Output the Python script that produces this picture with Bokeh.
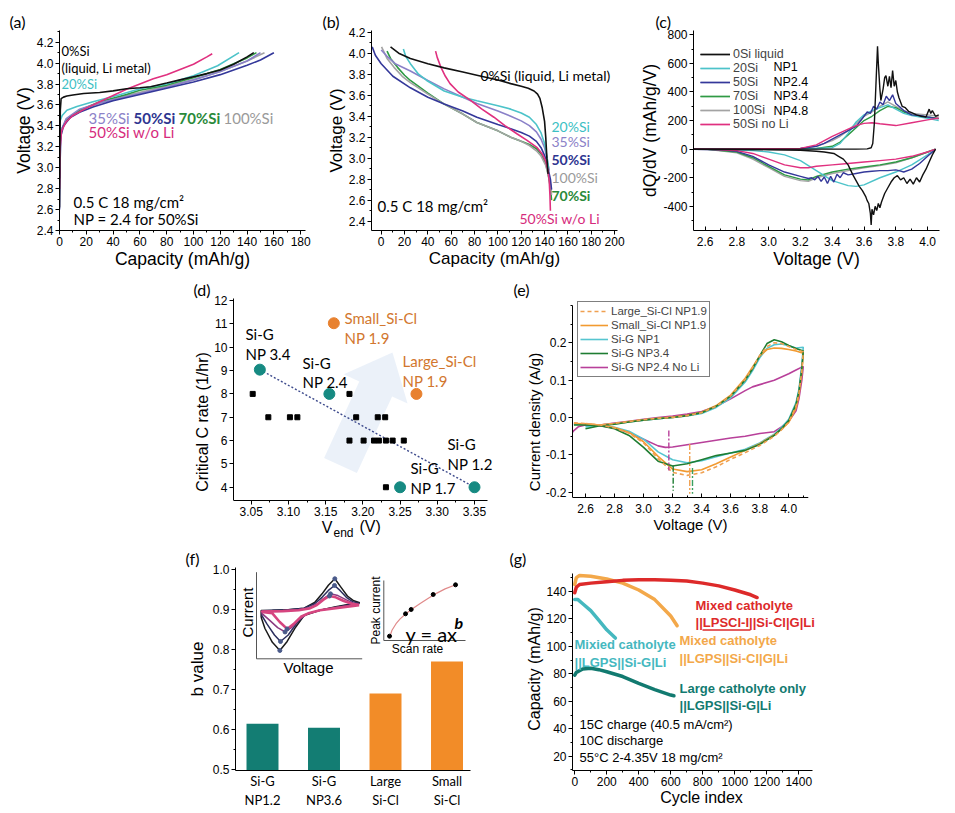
import math
from bokeh.plotting import figure
from bokeh.models import Range1d, Label, Legend, LegendItem, FixedTicker, Title
from bokeh.layouts import row, column
from bokeh.embed import file_html
from bokeh.resources import INLINE

AXF = "Liberation Sans"
ANF = "Lato"

# ===================== DATA =====================
# (a) charge profiles
a_cap_0si = [0, 0.3, 0.6, 1.2, 3, 5.5, 10, 18, 30, 40, 50, 60, 68, 80, 90, 100, 110, 120, 130, 140, 145]
a_v_0si = [2.62, 3.2, 3.55, 3.66, 3.675, 3.685, 3.695, 3.71, 3.72, 3.735, 3.755, 3.765, 3.775, 3.81, 3.84, 3.87, 3.90, 3.935, 3.99, 4.06, 4.10]
a_cap_20si = [0, 0.5, 2, 5.5, 13, 25, 43, 60, 80, 100, 118, 134]
a_v_20si = [3.0, 3.45, 3.5, 3.55, 3.585, 3.63, 3.69, 3.755, 3.80, 3.88, 3.975, 4.10]
a_cap_35si = [0, 0.5, 1, 5, 15, 30, 50, 80, 100, 120, 140, 150]
a_v_35si = [2.9, 3.25, 3.35, 3.47, 3.56, 3.62, 3.68, 3.77, 3.84, 3.92, 4.02, 4.10]
a_cap_50si = [0, 0.3, 1, 3, 8, 15, 25, 40, 60, 80, 100, 120, 140, 150, 160]
a_v_50si = [2.6, 3.0, 3.3, 3.4, 3.48, 3.53, 3.58, 3.64, 3.70, 3.76, 3.82, 3.89, 3.98, 4.03, 4.10]
a_cap_70si = [0, 0.5, 1, 5, 15, 30, 50, 60, 80, 100, 120, 140, 147]
a_v_70si = [2.9, 3.25, 3.35, 3.45, 3.55, 3.63, 3.70, 3.74, 3.79, 3.86, 3.94, 4.05, 4.10]
a_cap_100si = [0, 0.5, 1, 5, 15, 30, 50, 80, 100, 120, 140, 153]
a_v_100si = [2.9, 3.25, 3.35, 3.46, 3.55, 3.62, 3.69, 3.78, 3.84, 3.92, 4.02, 4.10]
a_cap_noli = [0, 0.5, 1.5, 5, 10, 20, 30, 40, 50, 60, 70, 80, 90, 100, 110, 114]
a_v_noli = [2.8, 3.2, 3.35, 3.44, 3.50, 3.57, 3.63, 3.69, 3.75, 3.80, 3.85, 3.89, 3.94, 3.99, 4.06, 4.09]
a_xticks = [0, 20, 40, 60, 80, 100, 120, 140, 160, 180]
a_xlabels = ["0", "20", "40", "60", "80", "100", "120", "140", "160", "180"]
a_yticks = [2.4, 2.6, 2.8, 3.0, 3.2, 3.4, 3.6, 3.8, 4.0, 4.2]
a_ylabels = ["2.4", "2.6", "2.8", "3.0", "3.2", "3.4", "3.6", "3.8", "4.0", "4.2"]

# (b) discharge profiles
b_cap_0si = [8, 15, 25, 40, 54, 70, 82, 100, 111, 120, 126, 131, 134, 136, 138, 140, 141, 142, 143]
b_v_0si = [4.06, 4.0, 3.95, 3.9, 3.86, 3.82, 3.79, 3.745, 3.71, 3.685, 3.665, 3.64, 3.61, 3.57, 3.48, 3.35, 3.2, 3.0, 2.85]
b_cap_20si = [19, 21, 25, 32, 39, 54, 70, 82, 100, 111, 120, 127, 133, 137, 140, 142, 143.5]
b_v_20si = [4.04, 3.97, 3.9, 3.8, 3.74, 3.64, 3.58, 3.547, 3.5, 3.467, 3.43, 3.39, 3.32, 3.24, 3.14, 3.02, 2.9]
b_cap_35si = [0, 5, 12, 25, 40, 54, 70, 82, 100, 111, 120, 127, 133, 137, 140, 142, 144]
b_v_35si = [4.03, 3.97, 3.9, 3.83, 3.74, 3.66, 3.58, 3.52, 3.45, 3.40, 3.355, 3.31, 3.25, 3.18, 3.1, 3.0, 2.88]
b_cap_50si = [-7.7, -5, 0, 10, 25, 40, 54, 70, 82, 100, 111, 120, 127, 133, 137, 141, 143, 145, 146]
b_v_50si = [4.06, 3.98, 3.9, 3.78, 3.67, 3.58, 3.515, 3.45, 3.39, 3.32, 3.28, 3.245, 3.21, 3.16, 3.1, 3.0, 2.9, 2.8, 2.7]
b_cap_100si = [0.3, 5, 11, 18, 25, 40, 54, 70, 82, 100, 111, 120, 127, 133, 137, 141, 143, 145, 146]
b_v_100si = [4.06, 3.95, 3.865, 3.78, 3.72, 3.61, 3.515, 3.42, 3.34, 3.26, 3.2, 3.16, 3.12, 3.07, 3.02, 2.93, 2.85, 2.75, 2.65]
b_cap_70si = [5, 8, 14, 20, 25, 40, 54, 70, 82, 100, 111, 120, 127, 133, 137, 141, 143, 145, 146]
b_v_70si = [4.02, 3.95, 3.865, 3.79, 3.74, 3.62, 3.515, 3.42, 3.34, 3.26, 3.2, 3.16, 3.13, 3.09, 3.04, 2.95, 2.85, 2.72, 2.6]
b_cap_noli = [46.6, 48, 51, 55, 59, 66, 76.6, 86, 96.6, 106, 116.6, 125, 133.7, 138, 141, 143, 144, 144.6, 145]
b_v_noli = [4.02, 3.96, 3.87, 3.78, 3.71, 3.63, 3.55, 3.47, 3.39, 3.31, 3.23, 3.17, 3.10, 3.04, 2.97, 2.88, 2.78, 2.65, 2.5]
b_xticks = [0, 20, 40, 60, 80, 100, 120, 140, 160, 180, 200]
b_xlabels = ["0", "20", "40", "60", "80", "100", "120", "140", "160", "180", "200"]
b_yticks = [2.4, 2.6, 2.8, 3.0, 3.2, 3.4, 3.6, 3.8, 4.0, 4.2]
b_ylabels = ["2.4", "2.6", "2.8", "3.0", "3.2", "3.4", "3.6", "3.8", "4.0", "4.2"]

# (c) dQ/dV
c_v_blk_up = [2.5, 2.8, 3.0, 3.2, 3.4, 3.55, 3.62, 3.645, 3.655, 3.665, 3.675, 3.685, 3.69, 3.70, 3.706, 3.72, 3.73, 3.738, 3.75, 3.76, 3.77, 3.78, 3.79, 3.80, 3.81, 3.82, 3.84, 3.86, 3.88, 3.90, 3.93, 3.96, 3.99, 4.01, 4.02, 4.03, 4.05, 4.07]
c_q_blk_up = [0, 0, 0, 0, 0, 0, 2, 10, 40, 180, 450, 720, 600, 420, 340, 420, 500, 515, 440, 510, 430, 550, 440, 480, 400, 360, 300, 290, 265, 255, 240, 230, 225, 280, 250, 270, 230, 240]
c_v_blk_dn = [4.05, 4.03, 4.01, 3.99, 3.97, 3.95, 3.93, 3.91, 3.89, 3.87, 3.85, 3.83, 3.81, 3.79, 3.77, 3.75, 3.73, 3.71, 3.70, 3.69, 3.68, 3.67, 3.66, 3.65, 3.645, 3.64, 3.63, 3.62, 3.61, 3.59, 3.57, 3.55, 3.53, 3.5, 3.47, 3.44, 3.41, 3.35, 3.3, 3.2, 3.0, 2.8, 2.5]
c_q_blk_dn = [0, -40, -90, -140, -180, -230, -200, -245, -210, -240, -200, -215, -185, -200, -230, -270, -310, -370, -410, -380, -430, -400, -460, -420, -530, -450, -380, -360, -330, -290, -260, -220, -180, -110, -70, -50, -30, -20, -15, -8, -4, -2, 0]
c_v_20_up = [2.5, 3.2, 3.4, 3.45, 3.5, 3.55, 3.6, 3.65, 3.7, 3.75, 3.8, 3.85, 3.9, 4.0, 4.07]
c_q_20_up = [0, 0, 10, 40, 110, 190, 240, 270, 290, 310, 280, 250, 235, 215, 200]
c_v_20_dn = [4.05, 4.0, 3.9, 3.8, 3.7, 3.6, 3.55, 3.5, 3.4, 3.3, 3.2, 3.1, 3.0, 2.9, 2.6, 2.5]
c_q_20_dn = [0, -40, -110, -160, -200, -250, -260, -255, -220, -150, -80, -40, -20, -10, 0, 0]
c_v_50_up = [2.5, 3.0, 3.2, 3.3, 3.35, 3.4, 3.45, 3.5, 3.55, 3.58, 3.6, 3.62, 3.64, 3.66, 3.68, 3.7, 3.72, 3.74, 3.76, 3.78, 3.8, 3.82, 3.85, 3.9, 3.95, 4.0, 4.07]
c_q_50_up = [0, 0, 5, 20, 40, 70, 100, 130, 160, 200, 230, 260, 250, 300, 280, 330, 310, 370, 340, 380, 320, 300, 270, 240, 235, 225, 212]
c_v_50_dn = [4.05, 4.0, 3.95, 3.9, 3.85, 3.82, 3.8, 3.75, 3.7, 3.65, 3.6, 3.55, 3.5, 3.47, 3.45, 3.43, 3.41, 3.39, 3.37, 3.35, 3.33, 3.31, 3.29, 3.27, 3.25, 3.2, 3.1, 3.0, 2.9, 2.8, 2.7, 2.5]
c_q_50_dn = [0, -50, -100, -140, -160, -150, -145, -150, -150, -155, -160, -170, -180, -165, -200, -175, -230, -190, -240, -195, -225, -190, -215, -200, -205, -190, -160, -110, -50, -15, -5, 0]
c_v_70_up = [2.5, 3.3, 3.4, 3.45, 3.5, 3.55, 3.6, 3.65, 3.7, 3.75, 3.8, 3.85, 3.9, 4.0, 4.07]
c_q_70_up = [0, 5, 20, 50, 100, 150, 200, 230, 270, 300, 290, 260, 240, 225, 215]
c_v_70_dn = [4.05, 4.0, 3.9, 3.8, 3.7, 3.6, 3.5, 3.4, 3.3, 3.25, 3.2, 3.1, 3.0, 2.9, 2.8, 2.6, 2.5]
c_q_70_dn = [0, -20, -60, -90, -110, -125, -140, -160, -190, -215, -210, -180, -120, -60, -20, 0, 0]
c_v_100_up = [2.5, 3.2, 3.3, 3.4, 3.45, 3.5, 3.55, 3.6, 3.65, 3.7, 3.75, 3.8, 3.85, 3.9, 4.0, 4.07]
c_q_100_up = [0, 5, 20, 60, 90, 130, 180, 230, 260, 300, 330, 300, 270, 250, 240, 230]
c_v_100_dn = [4.05, 4.0, 3.9, 3.8, 3.7, 3.6, 3.5, 3.4, 3.3, 3.25, 3.2, 3.1, 3.0, 2.9, 2.8, 2.6, 2.5]
c_q_100_dn = [0, -20, -60, -95, -115, -130, -150, -170, -200, -225, -220, -190, -130, -70, -25, 0, 0]
c_v_noli_up = [2.5, 3.2, 3.3, 3.4, 3.5, 3.55, 3.6, 3.65, 3.7, 3.8, 3.9, 4.0, 4.07]
c_q_noli_up = [0, 5, 30, 90, 140, 165, 180, 185, 178, 165, 185, 205, 218]
c_v_noli_dn = [4.05, 4.0, 3.9, 3.8, 3.7, 3.6, 3.5, 3.4, 3.3, 3.25, 3.2, 3.1, 3.0, 2.9, 2.8, 2.6, 2.5]
c_q_noli_dn = [0, -20, -50, -70, -80, -90, -100, -110, -120, -130, -130, -110, -70, -30, -10, 0, 0]
c_xticks = [2.6, 2.8, 3.0, 3.2, 3.4, 3.6, 3.8, 4.0]
c_xlabels = ["2.6", "2.8", "3.0", "3.2", "3.4", "3.6", "3.8", "4.0"]
c_yticks = [-400, -200, 0, 200, 400, 600, 800]
c_ylabels = ["-400", "-200", "0", "200", "400", "600", "800"]
c_legend = ["0Si liquid", "20Si", "50Si", "70Si", "100Si", "50Si no Li"]
c_np = ["", "NP1", "NP2.4", "NP3.4", "NP4.8", ""]

# (d) critical C rate vs V_end
d_sq_v = [3.052, 3.073, 3.102, 3.112, 3.182, 3.191, 3.22, 3.23, 3.182, 3.201, 3.215, 3.2215, 3.231, 3.24, 3.255, 3.231]
d_sq_c = [8, 7, 7, 7, 8, 7, 7, 7, 6, 6, 6, 6, 6, 6, 6, 4]
d_sig_v = [3.0616, 3.155, 3.25, 3.35]
d_sig_c = [9.04, 8, 4, 4]
d_sicl_v = [3.161, 3.272]
d_sicl_c = [11.03, 8]
d_xticks = [3.05, 3.10, 3.15, 3.20, 3.25, 3.30, 3.35]
d_xlabels = ["3.05", "3.10", "3.15", "3.20", "3.25", "3.30", "3.35"]
d_yticks = [4, 5, 6, 7, 8, 9, 10, 11, 12]
d_ylabels = ["4", "5", "6", "7", "8", "9", "10", "11", "12"]

# (e) CV curves
e_v_up = [2.52, 2.6, 2.7, 2.8, 2.9, 3.0, 3.1, 3.2, 3.3, 3.4, 3.5, 3.6, 3.7, 3.75, 3.8, 3.85, 3.9, 3.95, 4.0, 4.05, 4.1]
e_v_dn = [4.1, 4.09, 4.07, 4.05, 4.0, 3.95, 3.9, 3.8, 3.7, 3.6, 3.5, 3.4, 3.3, 3.2, 3.1, 3.0, 2.9, 2.8, 2.7, 2.6]
e_i_np34_up = [-0.02, -0.02, -0.022, -0.018, -0.012, -0.007, -0.003, 0.0, 0.005, 0.013, 0.03, 0.057, 0.1, 0.13, 0.165, 0.198, 0.208, 0.203, 0.193, 0.185, 0.178]
e_i_np34_dn = [0.178, 0.13, 0.07, 0.035, -0.008, -0.03, -0.048, -0.072, -0.088, -0.095, -0.102, -0.113, -0.124, -0.13, -0.117, -0.08, -0.048, -0.03, -0.022, -0.03]
e_i_np1_up = [-0.018, -0.018, -0.02, -0.017, -0.012, -0.007, -0.003, 0.0, 0.004, 0.011, 0.027, 0.053, 0.095, 0.125, 0.16, 0.185, 0.195, 0.197, 0.192, 0.186, 0.188]
e_i_np1_dn = [0.188, 0.14, 0.075, 0.04, -0.005, -0.027, -0.045, -0.068, -0.085, -0.095, -0.105, -0.116, -0.121, -0.113, -0.092, -0.058, -0.037, -0.026, -0.02, -0.025]
e_i_small_up = [-0.016, -0.017, -0.02, -0.016, -0.011, -0.006, -0.002, 0.001, 0.006, 0.014, 0.032, 0.06, 0.105, 0.135, 0.165, 0.182, 0.186, 0.185, 0.182, 0.178, 0.172]
e_i_small_dn = [0.172, 0.12, 0.06, 0.025, -0.013, -0.032, -0.047, -0.07, -0.088, -0.106, -0.124, -0.14, -0.145, -0.138, -0.104, -0.065, -0.04, -0.027, -0.02, -0.018]
e_i_large_up = [-0.014, -0.016, -0.02, -0.016, -0.011, -0.006, -0.002, 0.0, 0.005, 0.013, 0.03, 0.058, 0.102, 0.133, 0.166, 0.19, 0.2, 0.198, 0.19, 0.182, 0.176]
e_i_large_dn = [0.176, 0.125, 0.065, 0.03, -0.012, -0.033, -0.05, -0.075, -0.094, -0.112, -0.132, -0.148, -0.155, -0.147, -0.11, -0.068, -0.042, -0.028, -0.02, -0.016]
e_v_noli_up = [2.5, 2.52, 2.55, 2.6, 2.7, 2.8, 2.9, 3.0, 3.1, 3.2, 3.3, 3.4, 3.5, 3.6, 3.7, 3.75, 3.8, 3.9, 4.0, 4.05, 4.1]
e_i_noli_up = [-0.045, -0.035, -0.025, -0.02, -0.02, -0.015, -0.01, -0.005, 0.0, 0.004, 0.009, 0.016, 0.03, 0.05, 0.072, 0.082, 0.088, 0.1, 0.117, 0.127, 0.137]
e_v_noli_dn = [4.1, 4.09, 4.07, 4.05, 4.0, 3.95, 3.9, 3.8, 3.7, 3.6, 3.5, 3.4, 3.3, 3.2, 3.15, 3.1, 3.0, 2.9, 2.8, 2.7, 2.6]
e_i_noli_dn = [0.137, 0.1, 0.05, 0.018, -0.01, -0.025, -0.038, -0.043, -0.05, -0.055, -0.061, -0.067, -0.073, -0.079, -0.08, -0.076, -0.058, -0.04, -0.028, -0.022, -0.02]
e_peak_v = [3.174, 3.204, 3.318, 3.337]
e_peak_i0 = [-0.035, -0.129, -0.071, -0.135]
e_peak_i1 = [-0.142, -0.196, -0.204, -0.204]
e_xticks = [2.6, 2.8, 3.0, 3.2, 3.4, 3.6, 3.8, 4.0]
e_xlabels = ["2.6", "2.8", "3.0", "3.2", "3.4", "3.6", "3.8", "4.0"]
e_yticks = [-0.2, -0.1, 0.0, 0.1, 0.2]
e_ylabels = ["-0.2", "-0.1", "0.0", "0.1", "0.2"]
e_legend = ["Large_Si-Cl NP1.9", "Small_Si-Cl NP1.9", "Si-G NP1", "Si-G NP3.4", "Si-G NP2.4 No Li"]

# (f) b values
f_pos = [1, 2, 3, 4]
f_cats = ["Si-G\nNP1.2", "Si-G\nNP3.6", "Large\nSi-Cl", "Small\nSi-Cl"]
f_b = [0.615, 0.605, 0.691, 0.771]
f_yticks = [0.5, 0.6, 0.7, 0.8, 0.9, 1.0]
f_ylabels = ["0.5", "0.6", "0.7", "0.8", "0.9", "1.0"]
# inset 1: schematic CV loops (normalised voltage u, current v)
i1_u_black = [0.044, 0.08, 0.15, 0.221, 0.29, 0.37, 0.45, 0.6, 0.75, 0.88, 0.977, 0.92, 0.86, 0.8, 0.741, 0.68, 0.62, 0.55, 0.45, 0.3, 0.15, 0.044, 0.044]
i1_v_black = [-0.04, -0.3, -0.62, -0.808, -0.6, -0.27, 0.0, 0.12, 0.2, 0.26, 0.293, 0.34, 0.45, 0.65, 0.848, 0.7, 0.5, 0.3, 0.17, 0.13, 0.12, 0.115, -0.04]
i1_u_navy = [0.05, 0.1, 0.17, 0.227, 0.3, 0.38, 0.46, 0.6, 0.75, 0.88, 0.975, 0.91, 0.85, 0.79, 0.738, 0.68, 0.62, 0.55, 0.45, 0.3, 0.15, 0.05, 0.05]
i1_v_navy = [0.0, -0.2, -0.45, -0.6, -0.45, -0.18, 0.02, 0.12, 0.19, 0.25, 0.28, 0.32, 0.42, 0.58, 0.693, 0.58, 0.42, 0.27, 0.17, 0.13, 0.12, 0.11, 0.0]
i1_u_purple = [0.05, 0.12, 0.2, 0.27, 0.33, 0.4, 0.48, 0.6, 0.75, 0.88, 0.97, 0.91, 0.85, 0.77, 0.7, 0.64, 0.58, 0.5, 0.4, 0.25, 0.05, 0.05]
i1_v_purple = [0.05, -0.1, -0.28, -0.38, -0.28, -0.1, 0.04, 0.12, 0.18, 0.23, 0.26, 0.29, 0.36, 0.46, 0.5, 0.4, 0.28, 0.18, 0.14, 0.11, 0.1, 0.05]
i1_u_pink = [0.05, 0.15, 0.22, 0.29, 0.35, 0.42, 0.5, 0.6, 0.75, 0.88, 0.97, 0.9, 0.82, 0.75, 0.69, 0.63, 0.57, 0.5, 0.4, 0.25, 0.05, 0.05]
i1_v_pink = [0.08, 0.05, -0.15, -0.31, -0.2, -0.03, 0.06, 0.12, 0.17, 0.21, 0.24, 0.27, 0.34, 0.42, 0.45, 0.36, 0.24, 0.16, 0.12, 0.1, 0.09, 0.08]
i1_pk_u = [0.221, 0.227, 0.27, 0.29, 0.741, 0.738, 0.7, 0.69]
i1_pk_v = [-0.808, -0.6, -0.38, -0.31, 0.848, 0.693, 0.5, 0.45]
i1_axis_u = [0, 0, 1]
i1_axis_v = [1, -1, -1]
# inset 2: peak current vs scan rate
i2_pts_s = [0.07, 0.266, 0.335, 0.605, 0.878]
i2_pts_c = [0.072, 0.445, 0.517, 0.767, 0.928]
i2_fit_s = [0.07, 0.1, 0.15, 0.2, 0.27, 0.35, 0.45, 0.55, 0.65, 0.75, 0.88]
i2_fit_c = [0.05, 0.17, 0.28, 0.36, 0.445, 0.53, 0.62, 0.71, 0.79, 0.86, 0.93]
i2_axis_s = [0, 0, 1]
i2_axis_c = [1, 0, 0]

# (g) cycling
g_n_red = [0, 10, 30, 100, 200, 300, 400, 500, 600, 700, 800, 900, 1000, 1100, 1140]
g_q_red = [139, 143, 145, 146, 147, 148, 148.5, 148.5, 148, 147.5, 146, 144, 141, 137.5, 135.5]
g_n_org = [0, 10, 30, 100, 200, 300, 400, 500, 600, 640]
g_q_org = [145, 150, 151.5, 151, 149, 146, 141, 134, 122, 115]
g_n_cyan = [0, 20, 50, 100, 150, 200, 254]
g_q_cyan = [134, 134, 131, 126, 119, 112, 106]
g_n_teal = [0, 10, 50, 100, 150, 200, 300, 400, 500, 600, 620]
g_q_teal = [79, 81, 83.5, 84, 83, 81.5, 78, 73, 68.5, 64.5, 64]
g_xticks = [0, 200, 400, 600, 800, 1000, 1200, 1400]
g_xlabels = ["0", "200", "400", "600", "800", "1000", "1200", "1400"]
g_yticks = [20, 40, 60, 80, 100, 120, 140]
g_ylabels = ["20", "40", "60", "80", "100", "120", "140"]

# ===================== STYLE =====================
K = "#111111"
CYAN = "#4cc3c9"
PURP = "#8a80c8"
BLUE = "#34389a"
GREEN = "#2f9a45"
GRAY = "#a3a3a3"
MAG = "#e0307f"
TEAL = "#168a82"
ORNG = "#e8812f"


def mkfig(ox, oy, w, h, g, xr, yr, letter, letter_x, label_size=16):
    l, t, r, b = g
    p = figure(width=w, height=h, x_range=Range1d(xr[0], xr[1]), y_range=Range1d(yr[0], yr[1]),
               output_backend="svg", toolbar_location=None, title=None,
               min_border_left=l - ox, min_border_right=ox + w - r,
               min_border_top=t - oy, min_border_bottom=oy + h - b)
    p.outline_line_color = None
    p.xgrid.visible = False
    p.ygrid.visible = False
    p.background_fill_color = "white"
    p.border_fill_color = "white"
    for ax in (p.xaxis[0], p.yaxis[0]):
        ax.axis_line_color = "black"
        ax.major_tick_line_color = "black"
        ax.minor_tick_line_color = "black"
        ax.major_tick_out = 4
        ax.major_tick_in = 0
        ax.minor_tick_out = 2
        ax.minor_tick_in = 0
        ax.major_label_text_font = AXF
        ax.major_label_text_font_size = "12px"
        ax.major_label_text_color = "black"
        ax.major_label_standoff = 2
        ax.axis_label_text_font = AXF
        ax.axis_label_text_font_size = f"{label_size}px"
        ax.axis_label_text_font_style = "normal"
        ax.axis_label_text_color = "black"
        ax.axis_label_standoff = 0
    p.add_layout(Title(text=letter, align="left", offset=letter_x - l, standoff=0,
                       text_font=ANF, text_font_size="16px", text_font_style="normal",
                       text_color="black"), "above")
    return p


def inward(ax):
    ax.major_tick_in = 4
    ax.major_tick_out = 0
    ax.minor_tick_in = 2
    ax.minor_tick_out = 0
    ax.major_label_standoff = 6


def ticks(ax, tv, tl, minor):
    ax.ticker = FixedTicker(ticks=tv, minor_ticks=minor)
    ax.major_label_overrides = {v: s for v, s in zip(tv, tl)}


def txt(p, g, sx, sy, text, color="black", size=13, style="normal", font=ANF,
        align="left", angle=0.0, baseline="middle"):
    l, t, r, b = g
    p.add_layout(Label(x=sx - l, y=b - sy, x_units="screen", y_units="screen", text=text,
                       text_color=color, text_font_size=f"{size}px", text_font=font,
                       text_font_style=style, text_align=align, text_baseline=baseline,
                       angle=angle))


def minors(a, b, step):
    n = int(round((b - a) / step))
    return [round(a + i * step, 6) for i in range(n + 1)]


# ===================== (a) =====================
GA = (59, 30, 305, 230)
pa = mkfig(0, 0, 315, 275, GA, (0, 183.6), (2.4, 4.312), "(a)", 9, label_size=17.5)
ticks(pa.xaxis[0], a_xticks, a_xlabels, minors(0, 180, 10))
ticks(pa.yaxis[0], a_yticks, a_ylabels, minors(2.4, 4.3, 0.1))
pa.xaxis.axis_label = "Capacity (mAh/g)"
pa.yaxis.axis_label = "Voltage (V)"
for xs, ys, c in [(a_cap_100si, a_v_100si, GRAY), (a_cap_70si, a_v_70si, GREEN),
                  (a_cap_35si, a_v_35si, PURP), (a_cap_50si, a_v_50si, BLUE),
                  (a_cap_20si, a_v_20si, CYAN), (a_cap_noli, a_v_noli, MAG),
                  (a_cap_0si, a_v_0si, K)]:
    pa.line(xs, ys, line_color=c, line_width=1.6)
txt(pa, GA, 61, 50, "0%Si", size=13)
txt(pa, GA, 61, 67, "(liquid, Li metal)", size=13)
txt(pa, GA, 61, 83, "20%Si", color="#3cbfc4", size=13)
txt(pa, GA, 88, 117, "35%Si", color="#8c82c8", size=15)
txt(pa, GA, 133, 117, "50%Si", color="#2e3590", size=15, style="bold")
txt(pa, GA, 178, 117, "70%Si", color="#2a8a3a", size=15, style="bold")
txt(pa, GA, 223, 117, "100%Si", color="#9a9a9a", size=15)
txt(pa, GA, 88, 131, "50%Si w/o Li", color="#d62a7c", size=15)
txt(pa, GA, 73, 201, "0.5 C  18 mg/cm²", size=15)
txt(pa, GA, 73, 218, "NP = 2.4 for 50%Si", size=15)

# ===================== (b) =====================
GB = (371, 30, 617, 230)
pb = mkfig(315, 0, 310, 275, GB, (-8.31, 202.5), (2.311, 4.216), "(b)", 322, label_size=17)
ticks(pb.xaxis[0], b_xticks, b_xlabels, minors(0, 200, 10))
ticks(pb.yaxis[0], b_yticks, b_ylabels, minors(2.4, 4.2, 0.1))
pb.xaxis.axis_label = "Capacity (mAh/g)"
pb.yaxis.axis_label = "Voltage (V)"
for xs, ys, c in [(b_cap_70si, b_v_70si, GREEN), (b_cap_100si, b_v_100si, GRAY),
                  (b_cap_50si, b_v_50si, BLUE), (b_cap_35si, b_v_35si, PURP),
                  (b_cap_20si, b_v_20si, CYAN), (b_cap_noli, b_v_noli, MAG),
                  (b_cap_0si, b_v_0si, K)]:
    pb.line(xs, ys, line_color=c, line_width=1.6)
txt(pb, GB, 480, 75, "0%Si (liquid, Li metal)", size=14)
txt(pb, GB, 551, 126, "20%Si", color="#3cbfc4", size=14)
txt(pb, GB, 551, 141, "35%Si", color="#8c82c8", size=14)
txt(pb, GB, 551, 159, "50%Si", color="#2e3590", size=14, style="bold")
txt(pb, GB, 551, 177, "100%Si", color="#9a9a9a", size=14)
txt(pb, GB, 551, 195, "70%Si", color="#2a8a3a", size=14, style="bold")
txt(pb, GB, 519, 218, "50%Si w/o Li", color="#d62a7c", size=14)
txt(pb, GB, 377, 205, "0.5 C  18 mg/cm²", size=15)

# ===================== (c) =====================
GC = (693, 30, 939, 230)
pc = mkfig(625, 0, 325, 275, GC, (2.527, 4.075), (-569, 830), "(c)", 655, label_size=17.5)
ticks(pc.xaxis[0], c_xticks, c_xlabels, minors(2.6, 4.0, 0.1))
ticks(pc.yaxis[0], c_yticks, c_ylabels, minors(-500, 800, 100))
inward(pc.xaxis[0])
pc.xaxis.axis_label = "Voltage (V)"
pc.yaxis.axis_label = "dQ/dV (mAh/g/V)"
r_gray = [pc.line(c_v_100_up, c_q_100_up, line_color=GRAY, line_width=1.4),
          pc.line(c_v_100_dn, c_q_100_dn, line_color=GRAY, line_width=1.4)]
r_green = [pc.line(c_v_70_up, c_q_70_up, line_color=GREEN, line_width=1.4),
           pc.line(c_v_70_dn, c_q_70_dn, line_color=GREEN, line_width=1.4)]
r_cyan = [pc.line(c_v_20_up, c_q_20_up, line_color=CYAN, line_width=1.4),
          pc.line(c_v_20_dn, c_q_20_dn, line_color=CYAN, line_width=1.4)]
r_blue = [pc.line(c_v_50_up, c_q_50_up, line_color=BLUE, line_width=1.4),
          pc.line(c_v_50_dn, c_q_50_dn, line_color=BLUE, line_width=1.4)]
r_mag = [pc.line(c_v_noli_up, c_q_noli_up, line_color=MAG, line_width=1.4),
         pc.line(c_v_noli_dn, c_q_noli_dn, line_color=MAG, line_width=1.4)]
r_blk = [pc.line(c_v_blk_up, c_q_blk_up, line_color=K, line_width=1.4),
         pc.line(c_v_blk_dn, c_q_blk_dn, line_color=K, line_width=1.4)]
leg_c = Legend(items=[LegendItem(label=lab, renderers=rr) for lab, rr in
                      zip(c_legend, [r_blk, r_cyan, r_blue, r_green, r_gray, r_mag])],
               location=(7, 99), border_line_color=None, background_fill_alpha=0,
               label_text_font=AXF, label_text_font_size="12.5px", glyph_width=30,
               glyph_height=14, label_height=14, spacing=0, padding=0, margin=0,
               label_standoff=3)
pc.add_layout(leg_c)
for i, s in enumerate(c_np):
    if s:
        txt(pc, GC, 773, 52 + 14.5 * i, s, font=AXF, size=12.5)

# ============ row 2 shares frame top/bottom (298 / 545); axes pinned & bounded ============
# ===================== (d) =====================
GD = (233, 298, 497, 545)
pd_ = mkfig(0, 275, 500, 270, GD, (3.0262, 3.3809), (1.503, 12.09), "(d)", 193)
ticks(pd_.xaxis[0], d_xticks, d_xlabels, minors(3.05, 3.35, 0.025))
ticks(pd_.yaxis[0], d_yticks, d_ylabels, [])
pd_.xaxis.fixed_location = 3.43
pd_.xaxis.bounds = (3.0262, 3.3675)
pd_.yaxis.bounds = (3.43, 12.09)
pd_.yaxis.axis_label = "Critical C rate (1/hr)"
# faint arrow (decoration)
arrow_x = [3.1479, 3.1920, 3.2393, 3.2601, 3.2398, 3.1744, 3.1952]
arrow_y = [5.253, 4.610, 7.894, 7.585, 9.775, 8.845, 8.537]
pd_.patch(arrow_x, arrow_y, fill_color="#d3e0f1", fill_alpha=0.45, line_color=None)
pd_.line([d_sig_v[0], d_sig_v[3]], [d_sig_c[0], d_sig_c[3]], line_color="#3d4a8c",
         line_width=1.4, line_dash="2 2")
pd_.scatter(d_sq_v, d_sq_c, marker="square", size=5, color="black")
pd_.scatter(d_sig_v, d_sig_c, marker="circle", size=11, color=TEAL)
pd_.scatter(d_sicl_v, d_sicl_c, marker="circle", size=11, color=ORNG)
DL = "#d2772e"
txt(pd_, GD, 245, 333, "Si-G", size=15)
txt(pd_, GD, 245, 353, "NP 3.4", size=15)
txt(pd_, GD, 302, 362, "Si-G", size=15)
txt(pd_, GD, 302, 381, "NP 2.4", size=15)
txt(pd_, GD, 344, 317, "Small_Si-Cl", color=DL, size=15)
txt(pd_, GD, 344, 337, "NP 1.9", color=DL, size=15)
txt(pd_, GD, 402, 360, "Large_Si-Cl", color=DL, size=15)
txt(pd_, GD, 402, 380, "NP 1.9", color=DL, size=15)
txt(pd_, GD, 447, 443, "Si-G", size=15)
txt(pd_, GD, 447, 463, "NP 1.2", size=15)
txt(pd_, GD, 410, 467, "Si-G", size=15)
txt(pd_, GD, 410, 487, "NP 1.7", size=15)
txt(pd_, GD, 332, 527, "V", font=AXF, size=16, align="right")
txt(pd_, GD, 333, 532, "end", font=AXF, size=12)
txt(pd_, GD, 359, 526, "(V)", font=AXF, size=16)

# ===================== (e) =====================
GE = (572, 298, 808, 545)
pe = mkfig(500, 275, 450, 270, GE, (2.5105, 4.136), (-0.34271, 0.31864), "(e)", 513, label_size=15)
ticks(pe.xaxis[0], e_xticks, e_xlabels, minors(2.6, 4.1, 0.1))
ticks(pe.yaxis[0], e_yticks, e_ylabels, minors(-0.2, 0.3, 0.05))
inward(pe.xaxis[0])
pe.xaxis.fixed_location = -0.2142
pe.xaxis.bounds = (2.5105, 4.136)
pe.yaxis.bounds = (-0.2142, 0.2999)
pe.xaxis.axis_label = "Voltage (V)"
pe.yaxis.axis_label = "Current density (A/g)"
r_e_mag = pe.line(e_v_noli_up + e_v_noli_dn, e_i_noli_up + e_i_noli_dn, line_color="#b8409a", line_width=1.6)
r_e_cyan = pe.line(e_v_up + e_v_dn, e_i_np1_up + e_i_np1_dn, line_color="#56c5d0", line_width=1.6)
r_e_small = pe.line(e_v_up + e_v_dn, e_i_small_up + e_i_small_dn, line_color="#f29a30", line_width=1.6)
r_e_green = pe.line(e_v_up + e_v_dn, e_i_np34_up + e_i_np34_dn, line_color="#1e7d32", line_width=1.6)
r_e_large = pe.line(e_v_up + e_v_dn, e_i_large_up + e_i_large_dn, line_color="#f0a050", line_width=1.6, line_dash="4 3")
pe.segment(e_peak_v, e_peak_i0, e_peak_v, e_peak_i1,
           line_color=["#b8409a", "#1e7d32", "#f0a050", "#3aa060"], line_width=1.4,
           line_dash="6 2 2 2")
leg_e = Legend(items=[LegendItem(label=lab, renderers=[rr]) for lab, rr in
                      zip(e_legend, [r_e_large, r_e_small, r_e_cyan, r_e_green, r_e_mag])],
               location=(5, 168), border_line_color="black", border_line_width=1,
               background_fill_color="white", background_fill_alpha=1,
               label_text_font=AXF, label_text_font_size="11.5px", glyph_width=28,
               glyph_height=14, label_height=14, spacing=0, padding=2, margin=0,
               label_standoff=3)
pe.add_layout(leg_e)

# ============ row 3 shares frame top/bottom (567 / 770) ============
# ===================== (f) =====================
GF = (235, 567, 470, 770)
f_yr = (0.49825, 1.00575)
pf = mkfig(0, 545, 500, 265, GF, (0.561, 4.382), f_yr, "(f)", 185)
ticks(pf.yaxis[0], f_yticks, f_ylabels, minors(0.5, 1.0, 0.05))
ticks(pf.xaxis[0], f_pos, f_cats, [])
pf.xaxis.major_tick_out = 0
pf.xaxis.major_label_text_font = ANF
pf.xaxis.major_label_text_font_size = "13px"
pf.yaxis.axis_label = "b value"
pf.yaxis.axis_label_text_font_size = "17px"
pf.yaxis.axis_label_standoff = 3
pf.vbar(x=f_pos, top=f_b, bottom=f_yr[0], width=0.52,
        fill_color=["#137d73", "#137d73", "#f28c28", "#f28c28"], line_color=None)
pf.extra_x_ranges = {"i1x": Range1d(-0.1987, 2.0246), "i2x": Range1d(-1.8152, 1.0612)}
pf.extra_y_ranges = {"i1y": Range1d(-3.5797, 1.1085), "i2y": Range1d(-2.1667, 1.2167)}
I1 = dict(x_range_name="i1x", y_range_name="i1y")
I2 = dict(x_range_name="i2x", y_range_name="i2y")
pf.line(i1_axis_u, i1_axis_v, line_color="#555555", line_width=1, **I1)
pf.line(i1_u_black, i1_v_black, line_color="#1a1a1a", line_width=1.5, **I1)
pf.line(i1_u_navy, i1_v_navy, line_color="#2c2f5e", line_width=1.5, **I1)
pf.line(i1_u_purple, i1_v_purple, line_color="#8a3a80", line_width=1.5, **I1)
pf.line(i1_u_pink, i1_v_pink, line_color="#d6457f", line_width=2.6, **I1)
pf.scatter(i1_pk_u, i1_pk_v, size=4, color="#4a5a8a", **I1)
pf.line(i2_axis_s, i2_axis_c, line_color="#555555", line_width=1, **I2)
pf.line(i2_fit_s, i2_fit_c, line_color="#e08a8a", line_width=1.2, **I2)
pf.scatter(i2_pts_s, i2_pts_c, size=4, color="black", **I2)
txt(pf, GF, 247, 612, "Current", font=AXF, size=15, align="center", angle=math.pi / 2)
txt(pf, GF, 308, 667, "Voltage", font=AXF, size=15, align="center")
txt(pf, GF, 375, 610, "Peak current", font=AXF, size=12, align="center", angle=math.pi / 2)
txt(pf, GF, 417, 648, "Scan rate", font=AXF, size=12, align="center")
txt(pf, GF, 405, 633, "y = ax", size=20, baseline="alphabetic")
txt(pf, GF, 454, 622, "b", size=16, style="bold italic", baseline="alphabetic")

# ===================== (g) =====================
GG = (572, 567, 830, 770)
g_yr = (9.6, 157.37)
pg = mkfig(500, 545, 450, 265, GG, (-14, 1598.5), g_yr, "(g)", 509)
ticks(pg.xaxis[0], g_xticks, g_xlabels, minors(0, 1400, 100))
ticks(pg.yaxis[0], g_yticks, g_ylabels, minors(10, 150, 10))
pg.xaxis.bounds = (-14, 1486)
pg.yaxis.bounds = (9.6, 153)
pg.xaxis.axis_label = "Cycle index"
pg.yaxis.axis_label = "Capacity (mAh/g)"
RED = "#dd2a2a"
GOR = "#f3a84a"
GCY = "#45b8bf"
GTE = "#127a70"
pg.line(g_n_cyan, g_q_cyan, line_color=GCY, line_width=3.5, line_cap="round")
pg.line(g_n_teal, g_q_teal, line_color=GTE, line_width=3.5, line_cap="round")
pg.line(g_n_org, g_q_org, line_color=GOR, line_width=3.5, line_cap="round")
pg.line(g_n_red, g_q_red, line_color=RED, line_width=3.5, line_cap="round")
txt(pg, GG, 695, 605, "Mixed catholyte", color=RED, size=13, style="bold", font=AXF)
txt(pg, GG, 695, 622, "||LPSCl-I||Si-Cl|G|Li", color=RED, size=13, style="bold", font=AXF)
txt(pg, GG, 679, 640, "Mixed catholyte", color=GOR, size=13, style="bold", font=AXF)
txt(pg, GG, 679, 658, "||LGPS||Si-Cl|G|Li", color=GOR, size=13, style="bold", font=AXF)
txt(pg, GG, 574, 644, "Mixied catholyte", color=GCY, size=13, style="bold", font=AXF)
txt(pg, GG, 574, 662, "||LGPS||Si-G|Li", color=GCY, size=13, style="bold", font=AXF)
txt(pg, GG, 679, 688, "Large catholyte only", color=GTE, size=13, style="bold", font=AXF)
txt(pg, GG, 679, 705, "||LGPS||Si-G|Li", color=GTE, size=13, style="bold", font=AXF)
txt(pg, GG, 579, 724, "15C charge (40.5 mA/cm²)", size=13, font=AXF)
txt(pg, GG, 579, 740, "10C discharge", size=13, font=AXF)
txt(pg, GG, 579, 757, "55°C  2-4.35V  18 mg/cm²", size=13, font=AXF)
# underline of "LPSCl-I"
gxs = (1598.5 + 14) / (830 - 572)
ux0 = -14 + (702 - 572) * gxs
ux1 = -14 + (750 - 572) * gxs
uy = g_yr[1] - (629.5 - 567) / (770 - 567) * (g_yr[1] - g_yr[0])
pg.line([ux0, ux1], [uy, uy], line_color=RED, line_width=1.3)

layout = column(row(pa, pb, pc), row(pd_, pe), row(pf, pg))
open("out.html", "w").write(file_html(layout, INLINE))
